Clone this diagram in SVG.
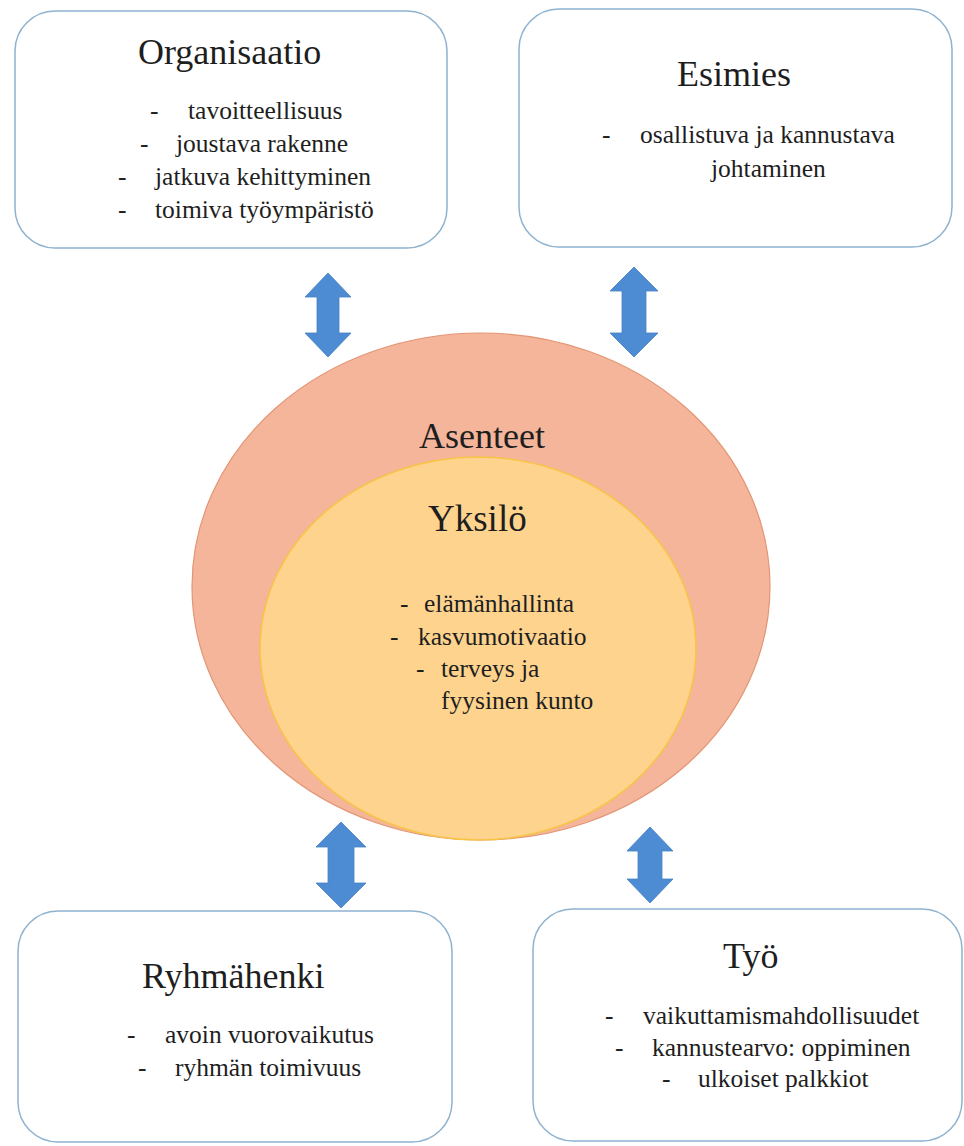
<svg xmlns="http://www.w3.org/2000/svg" width="964" height="1146" viewBox="0 0 964 1146">
<style>
.box{fill:#ffffff;stroke:#8fb3cf;stroke-width:1.5}
text{font-family:'Liberation Serif','Times New Roman',serif;fill:#1e1e1e}
.title{font-size:36px}
.item{font-size:25.5px}
.arrow{fill:#4d8bd2;stroke:#4680c4;stroke-width:0.8}
</style>
<rect width="964" height="1146" fill="#ffffff"/>
<g id="asenteet">
<ellipse cx="481" cy="586.5" rx="289" ry="253.5" fill="#f4b59b" stroke="#e39574" stroke-width="1.2"/>
<text class="title" x="419" y="448">Asenteet</text>
</g>
<g id="yksilo">
<ellipse cx="478" cy="648.5" rx="218" ry="191.5" fill="#fdd38e" stroke="#f7c446" stroke-width="1.5"/>
<text x="428" y="531" font-size="37">Yksilö</text>
<g class="item">
<text x="400" y="612">-</text><text x="424" y="612">elämänhallinta</text>
<text x="390" y="645">-</text><text x="418" y="645">kasvumotivaatio</text>
<text x="416" y="677">-</text><text x="441" y="677">terveys ja</text>
<text x="441" y="709">fyysinen kunto</text>
</g>
</g>
<g id="organisaatio">
<rect class="box" x="15" y="11" width="432" height="237" rx="40"/>
<text class="title" x="138" y="64">Organisaatio</text>
<g class="item">
<text x="150" y="119">-</text><text x="188" y="119">tavoitteellisuus</text>
<text x="140" y="152">-</text><text x="176" y="152">joustava rakenne</text>
<text x="118" y="185">-</text><text x="155" y="185">jatkuva kehittyminen</text>
<text x="118" y="218">-</text><text x="155" y="218">toimiva työympäristö</text>
</g>
</g>
<g id="esimies">
<rect class="box" x="519" y="9" width="433" height="238" rx="40"/>
<text class="title" x="677" y="86">Esimies</text>
<g class="item">
<text x="602" y="143">-</text><text x="640" y="143">osallistuva ja kannustava</text>
<text x="711" y="177">johtaminen</text>
</g>
</g>
<g id="ryhmahenki">
<rect class="box" x="18" y="911" width="434" height="231" rx="40"/>
<text class="title" x="142" y="988">Ryhmähenki</text>
<g class="item">
<text x="127" y="1043">-</text><text x="165" y="1043">avoin vuorovaikutus</text>
<text x="138" y="1076">-</text><text x="175" y="1076">ryhmän toimivuus</text>
</g>
</g>
<g id="tyo">
<rect class="box" x="533" y="909" width="429" height="232" rx="40"/>
<text class="title" x="723" y="968">Työ</text>
<g class="item">
<text x="605" y="1024">-</text><text x="643" y="1024">vaikuttamismahdollisuudet</text>
<text x="615" y="1056">-</text><text x="652" y="1056">kannustearvo: oppiminen</text>
<text x="662" y="1087">-</text><text x="698" y="1087">ulkoiset palkkiot</text>
</g>
</g>
<g id="connectors">
<path class="arrow" d="M328,273 L351,297 L339,297 L339,333 L351,333 L328,357 L305,333 L317,333 L317,297 L305,297 Z"/>
<path class="arrow" d="M634,267 L658,291 L646,291 L646,333 L658,333 L634,357 L610,333 L622,333 L622,291 L610,291 Z"/>
<path class="arrow" d="M341,822 L366,847 L354,847 L354,883 L366,883 L341,908 L316,883 L328,883 L328,847 L316,847 Z"/>
<path class="arrow" d="M650,827 L673,851 L662,851 L662,879 L673,879 L650,903 L627,879 L638,879 L638,851 L627,851 Z"/>
</g>
</svg>
